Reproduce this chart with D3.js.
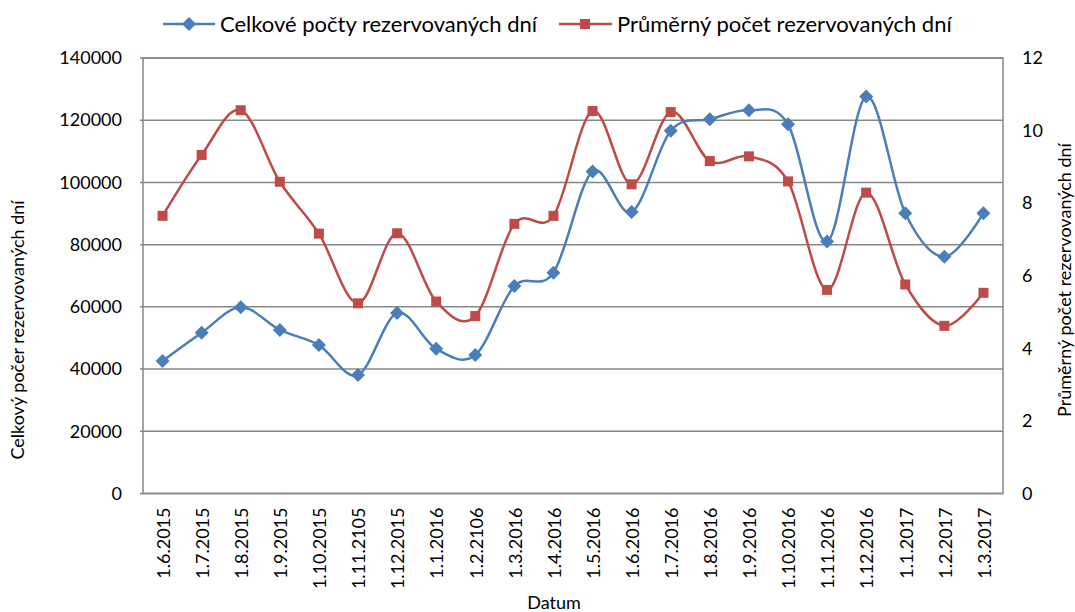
<!DOCTYPE html>
<html><head><meta charset="utf-8">
<script src="https://cdn.jsdelivr.net/npm/d3@7"></script>
<style>body{margin:0;background:#fff;} text{font-family:Lato,"Open Sans",sans-serif;fill:#000;}</style>
</head><body><svg id="c" width="1075" height="612"></svg>
<script>
const categories = ["1.6.2015","1.7.2015","1.8.2015","1.9.2015","1.10.2015","1.11.2105","1.12.2015","1.1.2016","1.2.2106","1.3.2016","1.4.2016","1.5.2016","1.6.2016","1.7.2016","1.8.2016","1.9.2016","1.10.2016","1.11.2016","1.12.2016","1.1.2017","1.2.2017","1.3.2017"];
const totalDays = [42600,51700,59900,52600,47700,38100,58000,46500,44500,66700,71000,103500,90500,116600,120300,123200,118700,81000,127600,90100,76100,90100];
const avgDays = [7.65,9.33,10.56,8.59,7.16,5.24,7.17,5.29,4.89,7.43,7.65,10.54,8.52,10.51,9.16,9.29,8.60,5.61,8.29,5.76,4.62,5.53];
const leftTicks = [0,20000,40000,60000,80000,100000,120000,140000];
const rightTicks = [0,2,4,6,8,10,12];
const seriesNames = ["Celkové počty rezervovaných dní","Průměrný počet rezervovaných dní"];
const colors = ["#4A7EBB","#BE4B48"];

const svg = d3.select("#c");
const L=143, R=1003, T=58, B=493.5;
const x = d3.scaleBand().domain(categories).range([L,R]);
const yL = d3.scaleLinear().domain([0,140000]).range([B,T]);
const yR = d3.scaleLinear().domain([0,12]).range([B,T]);
const cx = d => x(d)+x.bandwidth()/2;
const FF = "Lato,'Open Sans',sans-serif";

// gridlines
svg.append("g").selectAll("line").data(leftTicks).join("line")
  .attr("x1",L-3).attr("x2",R).attr("y1",d=>yL(d)).attr("y2",d=>yL(d))
  .attr("stroke","#878787").attr("stroke-width",1.5);
svg.append("rect").attr("x",L).attr("y",T).attr("width",R-L).attr("height",B-T)
  .attr("fill","none").attr("stroke","#878787").attr("stroke-width",1.5);

// left axis labels
const axL = d3.axisLeft(yL).tickValues(leftTicks).tickSize(0).tickPadding(21).tickFormat(d3.format("d"));
const gL = svg.append("g").attr("transform",`translate(${L},0)`).call(axL);
gL.select(".domain").remove();
gL.selectAll("text").style("font-size","18px").style("font-family",FF);
const axR = d3.axisRight(yR).tickValues(rightTicks).tickSize(0).tickPadding(19).tickFormat(d3.format("d"));
const gR = svg.append("g").attr("transform",`translate(${R},0)`).call(axR);
gR.select(".domain").remove();
gR.selectAll("text").style("font-size","18px").style("font-family",FF);

// x axis labels
const axX = d3.axisBottom(x).tickSize(0).tickPadding(0);
const gX = svg.append("g").attr("transform",`translate(0,${B})`).call(axX);
gX.select(".domain").remove();
gX.selectAll("text").attr("transform","rotate(-90)").attr("text-anchor","end")
  .attr("x",-14).attr("y",1).attr("dy","0.35em")
  .style("font-size","18px").style("font-family",FF);

// axis titles
svg.append("text").attr("x",554).attr("y",609).attr("text-anchor","middle").style("font-size","18px").text("Datum");
svg.append("text").attr("transform","translate(24,330) rotate(-90)").attr("text-anchor","middle").style("font-size","18px").text("Celkový počer rezervovaných dní");
svg.append("text").attr("transform","translate(1071,280) rotate(-90)").attr("text-anchor","middle").style("font-size","18px").text("Průměrný počet rezervovaných dní");

const curve = d3.curveCardinal.tension(0);
const line1 = d3.line().x((d,i)=>cx(categories[i])).y(d=>yL(d)).curve(curve);
const line2 = d3.line().x((d,i)=>cx(categories[i])).y(d=>yR(d)).curve(curve);
svg.append("path").attr("d",line2(avgDays)).attr("fill","none").attr("stroke",colors[1]).attr("stroke-width",2.5);
svg.append("path").attr("d",line1(totalDays)).attr("fill","none").attr("stroke",colors[0]).attr("stroke-width",2.5);
const diamond = s => `M0,${-s}L${s},0L0,${s}L${-s},0Z`;
const square = "M-5,-5H5V5H-5Z";
svg.append("g").selectAll("path").data(avgDays).join("path")
  .attr("transform",(d,i)=>`translate(${cx(categories[i])},${yR(d)})`)
  .attr("d",square).attr("fill",colors[1]);
svg.append("g").selectAll("path").data(totalDays).join("path")
  .attr("transform",(d,i)=>`translate(${cx(categories[i])},${yL(d)})`)
  .attr("d",diamond(7)).attr("fill",colors[0]);

// legend
const lg = svg.append("g");
lg.append("line").attr("x1",163).attr("x2",215).attr("y1",24).attr("y2",24).attr("stroke",colors[0]).attr("stroke-width",2.5);
lg.append("path").attr("transform","translate(189,24)").attr("d",diamond(7)).attr("fill",colors[0]);
lg.append("text").attr("x",220).attr("y",32).style("font-size","22px").text(seriesNames[0]);
lg.append("line").attr("x1",559).attr("x2",612).attr("y1",24).attr("y2",24).attr("stroke",colors[1]).attr("stroke-width",2.5);
lg.append("path").attr("transform","translate(585,24)").attr("d",square).attr("fill",colors[1]);
lg.append("text").attr("x",617).attr("y",32).style("font-size","22px").text(seriesNames[1]);
</script></body></html>
